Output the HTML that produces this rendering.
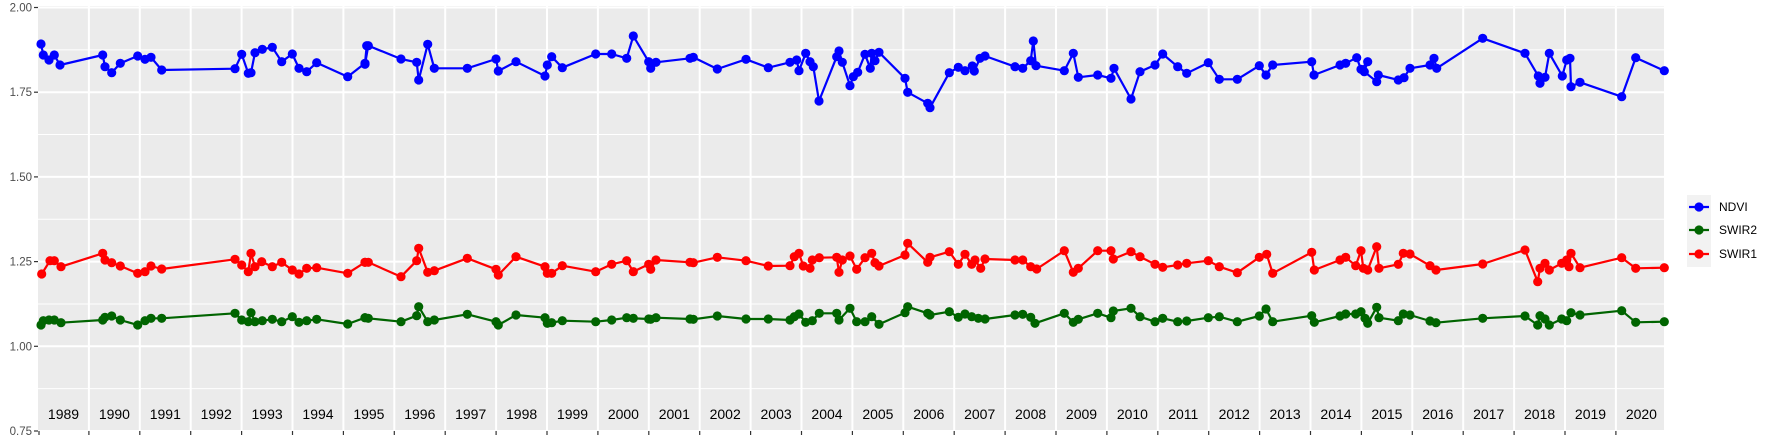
<!DOCTYPE html>
<html><head><meta charset="utf-8"><style>
body{margin:0;background:#fff;width:1773px;height:442px;overflow:hidden}
svg{display:block}
text{font-family:"Liberation Sans",sans-serif}
</style></head><body>
<svg id="s" width="1773" height="442" xmlns="http://www.w3.org/2000/svg"></svg>
<script>
const s=document.getElementById('s');
let h='';
const L=38,R=1664,T=6,B=431;
const Y=v=>7.5+(2-v)*338.8;
h+=`<rect x="${L}" y="${T}" width="${R-L}" height="${B-T}" fill="#ebebeb"/>`;
[1.875,1.625,1.375,1.125,0.875].forEach(v=>h+=`<line x1="${L}" x2="${R}" y1="${Y(v)}" y2="${Y(v)}" stroke="#fff" stroke-width="1"/>`);
[2,1.75,1.5,1.25,1.0,0.75].forEach(v=>{h+=`<line x1="${L}" x2="${R}" y1="${Y(v)}" y2="${Y(v)}" stroke="#fff" stroke-width="2"/>`;
h+=`<line x1="34" x2="38" y1="${Y(v)}" y2="${Y(v)}" stroke="#333" stroke-width="1.2"/>`;
h+=`<text x="32" y="${Y(v)+4}" font-size="11.5" fill="#4d4d4d" text-anchor="end">${v.toFixed(2)}</text>`;});
for(let k=1;k<=31;k++){const x=38+50.9*k;h+=`<line x1="${x}" x2="${x}" y1="${T}" y2="${B}" stroke="#fff" stroke-width="2"/><line x1="${x}" x2="${x}" y1="${B}" y2="${B+4}" stroke="#333" stroke-width="1.2"/>`;}
h+=`<line x1="39" x2="39" y1="${B}" y2="${B+4}" stroke="#333" stroke-width="1.2"/>`;
for(let k=0;k<32;k++){const x=38+50.9*k+25.5;h+=`<text x="${x}" y="419" font-size="14" fill="#000" text-anchor="middle">${1989+k}</text>`;}
const Z=[[35,{n:[[18,72],[25,105],[42,120],[58,105],[75,135],[203,105],[210,140],[230,158],[256,130],[308,108],[330,118],[348,112],[380,150],[600,146],[620,103],[640,160],[648,158],[660,98],[682,88],[712,82],[740,125],[772,102],[792,145],[815,155],[845,128],[938,170],[990,130],[995,77]],
r:[[20,762],[45,722],[58,722],[78,740],[203,700],[210,720],[230,728],[256,738],[308,760],[330,755],[348,738],[380,747],[600,718],[620,735],[640,755],[648,700],[660,740],[680,725],[712,740],[740,727],[772,750],[792,762],[815,745],[845,743],[938,760],[990,727]],
g:[[18,915],[25,902],[42,900],[58,900],[78,908],[203,900],[210,892],[230,888],[256,900],[308,915],[330,902],[348,895],[380,895],[600,880],[620,900],[640,905],[648,878],[660,905],[682,902],[712,898],[740,905],[772,890],[792,907],[815,902],[845,898],[938,912],[990,893]]}],
[360,{n:[[15,133],[25,77],[123,117],[170,127],[176,180],[203,73],[223,145],[322,145],[408,117],[415,153],[468,125],[555,168],[562,135],[575,110],[607,143],[707,102],[755,102],[800,115],[820,48],[866,125],[872,145],[888,127],[990,115]],
r:[[15,727],[25,727],[123,770],[170,722],[176,685],[203,757],[223,752],[322,715],[408,748],[415,765],[468,710],[555,740],[562,760],[575,760],[607,737],[707,755],[755,733],[800,722],[820,755],[866,733],[872,748],[888,720],[990,727]],
g:[[15,893],[25,895],[123,905],[170,887],[176,860],[203,905],[223,900],[322,883],[408,905],[415,915],[468,885],[555,893],[562,910],[575,908],[607,902],[707,905],[755,900],[800,893],[820,895],[866,897],[872,898],[888,893],[990,897]]}],
[685,{n:[[25,112],[97,147],[183,118],[250,143],[315,127],[335,120],[342,152],[362,100],[375,125],[385,140],[402,243],[455,110],[462,93],[472,127],[495,197],[505,170],[518,157],[540,103],[556,145],[560,100],[570,122],[582,97],[660,175],[668,217],[728,250],[735,263],[793,158],[820,142],[840,152],[862,138],[868,153],[885,115],[900,108],[990,140]],
r:[[25,728],[97,712],[183,722],[250,738],[315,737],[328,710],[342,700],[355,738],[375,745],[382,720],[403,713],[455,712],[462,757],[472,720],[495,708],[515,748],[540,713],[560,700],[570,728],[582,738],[660,705],[668,670],[728,727],[735,712],[793,695],[820,733],[840,703],[860,733],[870,720],[887,745],[900,717],[990,720]],
g:[[25,898],[97,888],[183,897],[250,897],[315,900],[328,890],[342,882],[362,907],[382,902],[403,880],[455,880],[462,900],[495,865],[515,905],[540,905],[560,890],[582,913],[660,878],[668,860],[728,880],[735,885],[793,875],[820,892],[840,882],[860,890],[880,895],[900,897],[990,885]]}],
[1010,{n:[[38,145],[62,122],[70,63],[78,137],[163,152],[190,100],[205,172],[263,165],[303,175],[312,145],[363,237],[390,155],[435,135],[458,102],[503,140],[530,160],[595,128],[628,178],[682,178],[748,137],[768,165],[788,135],[905,125],[912,165],[990,135]],
r:[[38,720],[62,740],[80,747],[163,692],[190,757],[205,745],[263,692],[303,692],[310,717],[363,695],[390,710],[435,733],[458,742],[503,735],[530,730],[595,722],[628,740],[682,758],[748,712],[770,703],[788,760],[905,697],[913,750],[990,720]],
g:[[38,883],[62,892],[75,910],[163,880],[190,907],[205,898],[263,880],[303,893],[310,873],[363,865],[390,890],[435,905],[458,895],[503,905],[530,903],[595,893],[628,890],[682,905],[748,888],[768,867],[788,905],[905,887],[913,907],[990,888]]}],
[1335,{n:[[32,130],[65,113],[78,148],[98,125],[88,155],[125,185],[130,165],[190,180],[207,173],[225,145],[285,135],[297,115],[305,145],[443,55],[570,100],[610,168],[615,190],[630,172],[643,100],[682,168],[695,120],[705,115],[708,200],[735,187],[860,230],[902,113],[988,152]],
r:[[32,712],[62,737],[78,692],[85,745],[98,750],[125,680],[132,745],[190,733],[205,700],[225,702],[285,737],[303,750],[443,732],[570,690],[608,785],[615,745],[630,730],[643,750],[680,730],[695,720],[702,740],[708,700],[735,743],[860,713],[902,745],[988,743]],
g:[[32,882],[62,882],[78,875],[90,895],[98,910],[125,862],[132,893],[190,902],[205,882],[225,885],[285,903],[303,908],[443,895],[570,888],[608,915],[615,887],[630,897],[643,915],[680,897],[695,902],[708,878],[735,885],[860,872],[902,907],[988,905]]}]];
const col={n:'#0000ff',g:'#006400',r:'#ff0000'};
['g','r','n'].forEach(k=>{let pts=[];Z.forEach(([ox,d])=>d[k].forEach(([zx,zy])=>pts.push([ox+zx/3,20+zy/3])));
h+=`<polyline fill="none" stroke="${col[k]}" stroke-width="2.2" stroke-linejoin="round" points="${pts.map(p=>p[0].toFixed(1)+','+p[1].toFixed(1)).join(' ')}"/>`;
pts.forEach(p=>h+=`<circle cx="${p[0].toFixed(1)}" cy="${p[1].toFixed(1)}" r="4.6" fill="${col[k]}"/>`);});
h+=`<rect x="1687" y="195" width="24" height="72" fill="#f2f2f2"/>`;
[['NDVI','#0000ff',207],['SWIR2','#006400',230],['SWIR1','#ff0000',254]].forEach(([t,c,y])=>{
h+=`<line x1="1689" x2="1709" y1="${y}" y2="${y}" stroke="${c}" stroke-width="2.2"/><circle cx="1699" cy="${y}" r="4.6" fill="${c}"/><text x="1719" y="${y+4}" font-size="12" fill="#000">${t}</text>`;});
s.innerHTML=h;
</script>
</body></html>
